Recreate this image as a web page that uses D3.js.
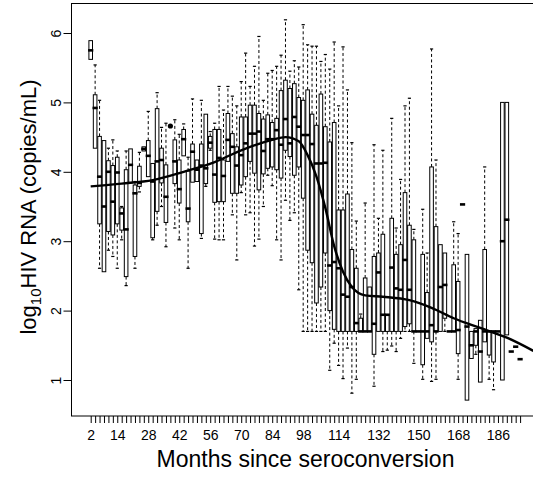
<!DOCTYPE html>
<html>
<head>
<meta charset="utf-8">
<script src="https://cdn.jsdelivr.net/npm/d3@7"></script>
<style>
  body { margin: 0; background: #fff; }
</style>
</head>
<body>
<div id="chart"></div>
<script>
// months since seroconversion (one box per category)
var months = [2,4,6,8,10,12,14,16,18,20,22,24,26,28,30,32,34,36,38,40,
  42,44,46,48,50,52,54,56,58,60,62,64,66,68,70,72,74,76,78,80,
  82,84,86,88,90,92,94,96,98,100,102,104,106,108,110,112,114,116,118,120,
  122,124,126,128,130,132,134,136,138,140,142,144,146,148,150,152,154,156,158,160,
  162,164,166,168,170,172,174,176,178,180,182,184,186,188,190,192,194,196]

// box statistics, log10 copies/mL
var lowWhisker = [5.62,4.34,2.61,2.56,2.87,2.78,2.61,3.02,2.36,3.84,
  2.61,3.71,4.30,3.93,3.02,3.23,3.50,2.92,null,3.19,
  3.02,4.23,2.61,3.85,3.86,3.04,3.79,4.31,3.03,3.02,
  3.02,4.15,3.38,2.73,3.70,3.38,3.41,2.93,3.03,3.50,
  3.95,3.80,3.02,2.73,3.59,3.30,3.41,2.30,1.70,1.70,
  1.70,1.70,1.70,1.70,1.14,1.53,1.21,1.02,1.46,0.81,
  1.01,1.70,1.70,1.70,0.91,1.70,1.41,1.43,1.49,1.41,
  1.60,1.70,1.70,1.24,1.70,1.01,1.60,0.98,1.01,1.70,
  1.70,1.70,1.70,1.01,3.53,0.71,1.31,1.37,0.97,1.55,
  1.01,0.86,1.70,1.00,1.65,1.41,1.48,1.30]
var q1 = [5.62,4.34,3.25,2.56,3.14,3.09,3.25,3.16,2.49,3.84,
  2.78,3.79,4.30,3.93,3.05,3.43,3.84,3.27,null,3.83,
  3.55,4.23,3.28,3.85,3.86,3.11,3.83,4.34,3.56,3.57,
  3.57,4.15,3.69,3.69,3.81,3.93,4.15,3.98,3.74,3.97,
  4.05,4.07,4.03,3.91,4.31,4.22,3.95,4.07,3.62,2.87,
  2.69,2.11,2.34,2.83,2.00,1.73,1.70,1.70,1.70,1.70,
  1.70,1.70,1.70,1.70,1.37,1.70,1.70,1.70,1.70,1.70,
  1.70,1.77,1.81,1.70,1.70,1.22,1.60,1.55,1.70,1.70,
  1.89,1.70,1.70,1.38,3.53,0.71,1.31,1.50,0.97,1.55,
  1.36,1.26,1.70,1.00,1.65,1.41,1.48,1.30]
var medians = [5.75,4.92,3.93,3.50,4.00,3.57,3.99,3.40,3.17,4.10,
  3.69,3.84,4.33,4.23,3.86,4.15,4.17,3.64,null,4.15,
  3.75,4.47,3.47,4.29,4.03,4.09,4.05,4.42,3.96,4.20,
  3.94,4.46,4.36,4.09,4.24,4.41,4.55,4.55,4.58,4.30,
  4.47,4.47,4.60,4.39,4.76,4.41,4.79,4.65,4.53,4.53,
  4.40,4.12,4.12,4.13,2.65,2.70,2.61,2.23,2.20,2.34,
  1.82,1.70,1.70,1.70,1.81,2.55,1.94,1.94,2.62,2.32,
  2.30,2.73,2.30,1.70,1.70,1.70,1.70,1.79,1.70,2.34,
  2.37,1.70,1.70,1.72,3.53,1.77,1.50,1.70,1.41,1.70,
  1.70,1.70,1.70,3.00,3.31,1.41,1.48,1.30]
var q3 = [5.89,5.11,4.51,4.45,4.16,4.09,4.21,3.48,4.03,4.33,
  3.81,4.08,4.36,4.45,4.12,4.91,4.34,4.10,null,4.46,
  4.17,4.61,4.01,4.40,4.17,4.40,4.83,4.51,4.61,4.61,
  4.17,4.84,4.55,4.36,4.79,4.79,4.96,4.96,4.84,4.76,
  4.82,4.71,4.77,5.17,5.32,5.20,5.27,5.07,5.03,5.18,
  4.83,4.67,5.12,4.65,4.43,4.71,3.45,3.45,3.68,2.88,
  2.61,1.89,2.47,2.34,2.78,2.83,3.10,1.94,3.33,2.81,
  2.95,3.70,3.23,3.02,1.70,2.81,2.26,4.07,3.21,2.95,
  2.83,1.70,2.66,2.42,3.53,2.81,1.70,1.74,1.86,2.88,
  1.70,1.70,1.70,5.00,5.00,1.41,1.48,1.30]
var highWhisker = [5.89,5.54,5.03,4.45,4.34,4.46,4.30,3.50,4.30,4.33,
  3.86,4.28,4.36,4.87,4.12,5.14,4.64,4.70,null,4.75,
  4.54,4.69,4.21,5.05,4.17,5.03,4.83,4.58,4.70,5.23,
  4.89,5.23,5.09,4.95,5.30,5.71,5.23,5.52,5.95,5.03,
  5.42,5.46,5.52,5.68,6.19,5.45,5.60,5.51,6.12,5.83,
  5.81,5.81,5.59,5.69,5.48,5.87,4.95,5.80,5.18,4.42,
  3.29,1.95,3.55,2.34,4.39,3.33,4.31,1.94,4.77,3.19,
  3.89,4.95,5.06,3.17,1.70,3.46,2.83,5.77,4.17,2.95,
  2.83,1.70,3.28,3.11,3.53,2.81,1.70,1.74,1.86,4.07,
  1.70,1.70,1.70,5.00,5.00,1.41,1.48,1.30]

var outlierMonths = [38]
var outlierValues = [4.66]

// smoothed trend
var smoothMonths = [2,16,30,44,58,70,84,90,96,100,104,108,112,116,120,126,134,146,156,166,178,190,202]
var smoothValues = [3.79,3.83,3.88,4.00,4.14,4.31,4.46,4.50,4.44,4.24,3.93,3.48,2.93,2.56,2.34,2.22,2.20,2.15,2.04,1.89,1.75,1.61,1.42]

var xTickLabels = [2,14,28,42,56,70,84,98,114,132,150,168,186]
var yTicks = [1,2,3,4,5,6]

var W = 533, H = 477
var plot = { left: 71, top: 3, right: 540, bottom: 415.5 }
var font = "'Liberation Sans', Arial, sans-serif"

var svg = d3.select("#chart").append("svg")
    .attr("width", W).attr("height", H)
    .style("font-family", font)

var x = d3.scaleLinear().domain([2, 196]).range([90.7, 520.1])
var y = d3.scaleLinear().domain([1, 6]).range([380, 33])

var boxes = months.map(function(m, i) {
  return { m: m, lo: lowWhisker[i], q1: q1[i], med: medians[i], q3: q3[i], hi: highWhisker[i] }
}).filter(function(d) { return d.med != null })

var g = svg.append("g")
var halfBox = 1.8, halfCap = 1.6

var bx = g.selectAll("g.box").data(boxes).enter().append("g").attr("class", "box")

// whiskers
bx.filter(function(d) { return d.hi > d.q3 }).append("line")
    .attr("x1", function(d) { return x(d.m) }).attr("x2", function(d) { return x(d.m) })
    .attr("y1", function(d) { return y(d.q3) }).attr("y2", function(d) { return y(d.hi) })
    .attr("stroke", "#000").attr("stroke-width", 1).attr("stroke-dasharray", "3,2.5")
bx.filter(function(d) { return d.lo < d.q1 }).append("line")
    .attr("x1", function(d) { return x(d.m) }).attr("x2", function(d) { return x(d.m) })
    .attr("y1", function(d) { return y(d.q1) }).attr("y2", function(d) { return y(d.lo) })
    .attr("stroke", "#000").attr("stroke-width", 1).attr("stroke-dasharray", "3,2.5")
bx.filter(function(d) { return d.hi > d.q3 }).append("line")
    .attr("x1", function(d) { return x(d.m) - halfCap }).attr("x2", function(d) { return x(d.m) + halfCap })
    .attr("y1", function(d) { return y(d.hi) }).attr("y2", function(d) { return y(d.hi) })
    .attr("stroke", "#000").attr("stroke-width", 1.2)
bx.filter(function(d) { return d.lo < d.q1 }).append("line")
    .attr("x1", function(d) { return x(d.m) - halfCap }).attr("x2", function(d) { return x(d.m) + halfCap })
    .attr("y1", function(d) { return y(d.lo) }).attr("y2", function(d) { return y(d.lo) })
    .attr("stroke", "#000").attr("stroke-width", 1.2)

// boxes
bx.filter(function(d) { return d.q3 > d.q1 }).append("rect")
    .attr("x", function(d) { return x(d.m) - halfBox })
    .attr("width", halfBox * 2)
    .attr("y", function(d) { return y(d.q3) })
    .attr("height", function(d) { return y(d.q1) - y(d.q3) })
    .attr("fill", "#fff").attr("stroke", "#000").attr("stroke-width", 1)

// medians
bx.append("line")
    .attr("x1", function(d) { return x(d.m) - 2.6 }).attr("x2", function(d) { return x(d.m) + 2.6 })
    .attr("y1", function(d) { return y(d.med) }).attr("y2", function(d) { return y(d.med) })
    .attr("stroke", "#000").attr("stroke-width", 2.6)

// outliers
g.selectAll("circle.out").data(outlierMonths).enter().append("circle")
    .attr("class", "out")
    .attr("cx", function(d) { return x(d) })
    .attr("cy", function(d, i) { return y(outlierValues[i]) })
    .attr("r", 2.6).attr("fill", "#000")

// smooth line
var line = d3.line()
    .x(function(d) { return x(d[0]) })
    .y(function(d) { return y(d[1]) })
    .curve(d3.curveMonotoneX)
svg.append("path")
    .datum(smoothMonths.map(function(m, i) { return [m, smoothValues[i]] }))
    .attr("d", line)
    .attr("fill", "none").attr("stroke", "#000").attr("stroke-width", 2.4)

// frame
svg.append("rect")
    .attr("x", plot.left + 0.5).attr("y", plot.top + 0.5)
    .attr("width", plot.right - plot.left).attr("height", plot.bottom - plot.top)
    .attr("fill", "none").attr("stroke", "#000").attr("stroke-width", 1)

// x axis
var xAxis = d3.axisBottom(x).tickValues(months).tickSize(7).tickSizeOuter(0)
    .tickFormat(function(d) { return xTickLabels.indexOf(d) >= 0 ? d : "" })
var gx = svg.append("g").attr("transform", "translate(0," + (plot.bottom + 0.5) + ")").call(xAxis)
gx.select(".domain").remove()
gx.selectAll(".tick line").attr("stroke", "#000")
gx.selectAll(".tick text").attr("font-size", 14).attr("fill", "#000")
    .attr("font-family", font).attr("dy", "1.0em")

// y axis
var yAxis = d3.axisLeft(y).tickValues(yTicks).tickSize(8).tickFormat(d3.format("d"))
var gy = svg.append("g").attr("transform", "translate(" + (plot.left + 0.5) + ",0)").call(yAxis)
gy.select(".domain").remove()
gy.selectAll(".tick line").attr("stroke", "#000")
gy.selectAll(".tick text").attr("font-size", 14).attr("fill", "#000")
    .attr("font-family", font)
    .attr("x", null).attr("dy", null)
    .attr("text-anchor", "middle")
    .attr("transform", "translate(-11,0) rotate(-90)")

// axis titles
svg.append("text")
    .attr("x", 305.5).attr("y", 467)
    .attr("text-anchor", "middle").attr("font-size", 23)
    .text("Months since seroconversion")

var yt = svg.append("text")
    .attr("transform", "translate(36,207) rotate(-90)")
    .attr("text-anchor", "middle").attr("font-size", 22)
yt.append("tspan").text("log")
yt.append("tspan").attr("font-size", 15).attr("dy", 5).text("10")
yt.append("tspan").attr("dy", -5).text("HIV RNA (copies/mL)")
</script>
</body>
</html>
